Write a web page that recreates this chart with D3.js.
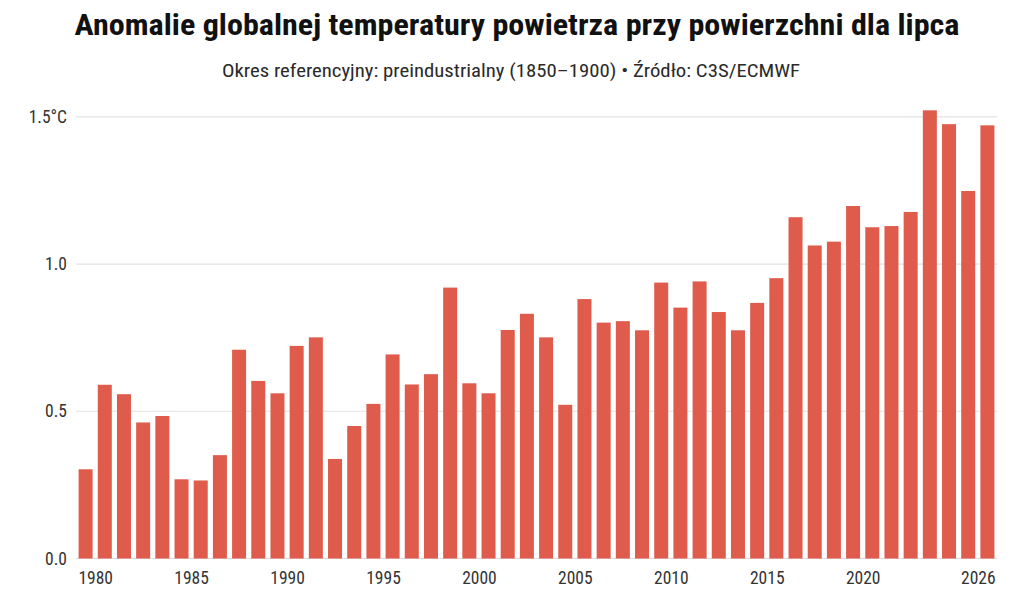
<!DOCTYPE html>
<html>
<head>
<meta charset="utf-8">
<script src="https://cdn.jsdelivr.net/npm/d3@7"></script>
<style>
  html, body { margin: 0; padding: 0; background: #ffffff; }
  svg { display: block; }
  text { font-family: "Roboto Condensed", "Liberation Sans Narrow", "Roboto", sans-serif; }
</style>
</head>
<body>
<svg id="chart" width="1024" height="597"></svg>
<script>
const title = "Anomalie globalnej temperatury powietrza przy powierzchni dla lipca";
const subtitle = "Okres referencyjny: preindustrialny (1850\u20131900) \u2022 \u0179r\u00f3d\u0142o: C3S/ECMWF";

const years = [1979,1980,1981,1982,1983,1984,1985,1986,1987,1988,1989,1990,1991,1992,1993,1994,1995,1996,1997,1998,1999,2000,2001,2002,2003,2004,2005,2006,2007,2008,2009,2010,2011,2012,2013,2014,2015,2016,2017,2018,2019,2020,2021,2022,2023,2024,2025,2026];
const anomalies = [0.303,0.590,0.558,0.462,0.484,0.269,0.265,0.351,0.709,0.603,0.561,0.722,0.751,0.338,0.450,0.525,0.693,0.591,0.626,0.920,0.595,0.561,0.776,0.831,0.751,0.522,0.881,0.801,0.806,0.775,0.937,0.852,0.941,0.837,0.775,0.868,0.952,1.159,1.063,1.076,1.197,1.125,1.129,1.177,1.522,1.475,1.248,1.471];

const yTicks = [0, 0.5, 1.0, 1.5];
const yTickLabels = ["0.0", "0.5", "1.0", "1.5\u00b0C"];
const xTicks = [1980, 1985, 1990, 1995, 2000, 2005, 2010, 2015, 2020, 2026];

(function () {
const svg = d3.select("#chart");
const mLeft = 76, mRight = 997, mTop = 116.8, mBottom = 558.5;

const x = d3.scaleLinear().domain([1979, 2027]).range([mLeft, mRight]);
const y = d3.scaleLinear().domain([0, 1.5]).range([mBottom, mTop]);
const step = x(1980) - x(1979);
const barW = step * 0.73;

// title & subtitle
svg.append("text")
  .attr("x", 517).attr("y", 35)
  .attr("text-anchor", "middle")
  .attr("font-size", 30).attr("font-weight", 700)
  .attr("fill", "#111111")
  .attr("textLength", 885).attr("lengthAdjust", "spacingAndGlyphs")
  .text(title);

svg.append("text")
  .attr("x", 511).attr("y", 77)
  .attr("text-anchor", "middle")
  .attr("font-size", 19)
  .attr("fill", "#2a2a2a")
  .attr("textLength", 578).attr("lengthAdjust", "spacingAndGlyphs")
  .text(subtitle);

// gridlines
svg.append("g").selectAll("line").data(yTicks).join("line")
  .attr("x1", mLeft).attr("x2", mRight)
  .attr("y1", d => y(d)).attr("y2", d => y(d))
  .attr("stroke", d => d === 0 ? "#dcdcdc" : "#e3e3e3")
  .attr("stroke-width", 1.2);

// y labels
svg.append("g").selectAll("text").data(yTicks).join("text")
  .attr("x", 67).attr("y", d => y(d))
  .attr("dy", "0.35em")
  .attr("text-anchor", "end")
  .attr("font-size", 17.5)
  .attr("fill", "#333333")
  .text((d, i) => yTickLabels[i]);

// bars
svg.append("g").selectAll("rect").data(years).join("rect")
  .attr("x", d => x(d + 0.5) - barW / 2)
  .attr("width", barW)
  .attr("y", (d, i) => y(anomalies[i]))
  .attr("height", (d, i) => y(0) - y(anomalies[i]))
  .attr("fill", "#df5b4c");

// x axis
const xAxis = d3.axisBottom(x).tickValues(xTicks).tickSize(0).tickPadding(0).tickFormat(d3.format("d"));
const gx = svg.append("g").attr("transform", `translate(0,${mBottom})`).call(xAxis);
gx.select(".domain").remove();
gx.selectAll("text")
  .attr("y", 25).attr("dy", 0)
  .attr("font-size", 17.5)
  .attr("font-family", "\"Roboto Condensed\", \"Liberation Sans Narrow\", \"Roboto\", sans-serif")
  .attr("fill", "#333333");
})();
</script>
</body>
</html>
